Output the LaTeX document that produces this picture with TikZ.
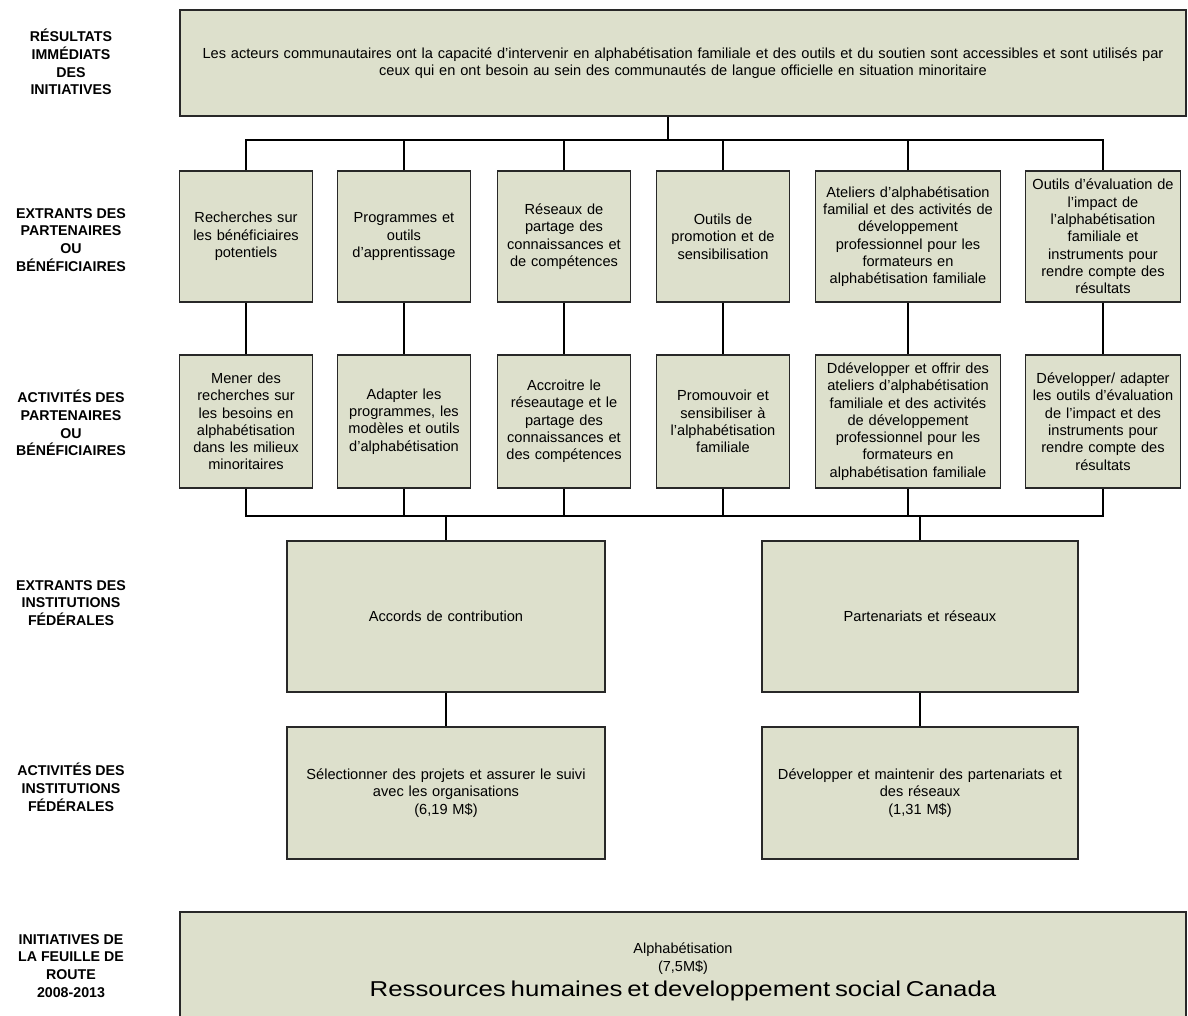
\documentclass[tikz,border=0pt]{standalone}
\usepackage{fontspec}
\setmainfont{Liberation Sans}
\definecolor{boxfill}{RGB}{221,224,204}
\definecolor{boxline}{RGB}{40,40,40}
\begin{document}
\begin{tikzpicture}[x=1pt,y=-1pt,
  box/.style={draw=boxline, line width=1.4pt, fill=boxfill, align=center, inner sep=1pt,
    font=\fontsize{14.6}{17.3}\selectfont},
  lab/.style={align=center, font=\bfseries\fontsize{14.2}{17.8}\selectfont},
  conn/.style={line width=1.3pt, draw=black}]
\useasboundingbox (0,0) rectangle (1188,1015);

% left labels
\node[lab] (l1) at (71,62) {RÉSULTATS\\IMMÉDIATS\\DES\\INITIATIVES};
\node[lab] (l2) at (71,240) {EXTRANTS DES\\PARTENAIRES\\OU\\BÉNÉFICIAIRES};
\node[lab] (l3) at (71,423) {ACTIVITÉS DES\\PARTENAIRES\\OU\\BÉNÉFICIAIRES};
\node[lab] (l4) at (71,603) {EXTRANTS DES\\INSTITUTIONS\\FÉDÉRALES};
\node[lab] (l5) at (71,787) {ACTIVITÉS DES\\INSTITUTIONS\\FÉDÉRALES};
\node[lab] (l6) at (71,966) {INITIATIVES DE\\LA FEUILLE DE\\ROUTE\\2008-2013};

% top box
\node[box, minimum width=1006pt, minimum height=106pt, text width=1002pt] (top) at (683,63)
 {Les acteurs communautaires ont la capacité d'intervenir en alphabétisation familiale et des outils et du soutien sont accessibles et sont utilisés par\\ceux qui en ont besoin au sein des communautés de langue officielle en situation minoritaire};

% row 1
\node[box, minimum width=133pt, minimum height=131pt, text width=130pt] (r1a) at (246,236.5)
 {Recherches sur\\les bénéficiaires\\potentiels};
\node[box, minimum width=133pt, minimum height=131pt, text width=130pt] (r1b) at (404,236.5)
 {Programmes et\\outils\\d'apprentissage};
\node[box, minimum width=133pt, minimum height=131pt, text width=130pt] (r1c) at (564,236.5)
 {Réseaux de\\partage des\\connaissances et\\de compétences};
\node[box, minimum width=133pt, minimum height=131pt, text width=130pt] (r1d) at (723,236.5)
 {Outils de\\promotion et de\\sensibilisation};
\node[box, minimum width=185pt, minimum height=131pt, text width=182pt] (r1e) at (908,236.5)
 {Ateliers d'alphabétisation\\familial et des activités de\\développement\\professionnel pour les\\formateurs en\\alphabétisation familiale};
\node[box, minimum width=155pt, minimum height=131pt, text width=152pt] (r1f) at (1103,236.5)
 {Outils d'évaluation de\\l'impact de\\l'alphabétisation\\familiale et\\instruments pour\\rendre compte des\\résultats};

% row 2
\node[box, minimum width=133pt, minimum height=133pt, text width=130pt] (r2a) at (246,421.5)
 {Mener des\\recherches sur\\les besoins en\\alphabétisation\\dans les milieux\\minoritaires};
\node[box, minimum width=133pt, minimum height=133pt, text width=130pt] (r2b) at (404,421.5)
 {Adapter les\\programmes, les\\modèles et outils\\d'alphabétisation};
\node[box, minimum width=133pt, minimum height=133pt, text width=130pt] (r2c) at (564,421.5)
 {Accroitre le\\réseautage et le\\partage des\\connaissances et\\des compétences};
\node[box, minimum width=133pt, minimum height=133pt, text width=130pt] (r2d) at (723,421.5)
 {Promouvoir et\\sensibiliser à\\l'alphabétisation\\familiale};
\node[box, minimum width=185pt, minimum height=133pt, text width=182pt] (r2e) at (908,421.5)
 {Ddévelopper et offrir des\\ateliers d'alphabétisation\\familiale et des activités\\de développement\\professionnel pour les\\formateurs en\\alphabétisation familiale};
\node[box, minimum width=155pt, minimum height=133pt, text width=152pt] (r2f) at (1103,421.5)
 {Développer/ adapter\\les outils d'évaluation\\de l'impact et des\\instruments pour\\rendre compte des\\résultats};

% row 3
\node[box, minimum width=318pt, minimum height=151pt, text width=310pt] (r3a) at (446,616.5)
 {Accords de contribution};
\node[box, minimum width=316pt, minimum height=151pt, text width=308pt] (r3b) at (920,616.5)
 {Partenariats et réseaux};

% row 4
\node[box, minimum width=318pt, minimum height=132pt, text width=310pt] (r4a) at (446,793)
 {Sélectionner des projets et assurer le suivi\\avec les organisations\\(6,19 M\$)};
\node[box, minimum width=316pt, minimum height=132pt, text width=308pt] (r4b) at (920,793)
 {Développer et maintenir des partenariats et\\des réseaux\\(1,31 M\$)};

% bottom box
\node[box, minimum width=1006pt, minimum height=120pt, text width=1000pt] (bot) at (683,972)
 {{\fontsize{14.5}{18}\selectfont Alphabétisation\\(7,5M\$)\par}
  {\fontsize{21.5}{25}\selectfont\addfontfeature{FakeStretch=1.2}Ressources humaines et developpement social Canada\par}};

% connectors
\coordinate (tb) at (668,140);
\coordinate (mb) at (0,516);
\draw[conn] (top.south -| tb) -- (tb);
\draw[conn] (r1a.north) -- (r1a.north |- tb) -- (r1f.north |- tb) -- (r1f.north);
\foreach \n in {r1b,r1c,r1d,r1e} \draw[conn] (\n.north) -- (\n.north |- tb);
\foreach \a/\b in {r1a/r2a,r1b/r2b,r1c/r2c,r1d/r2d,r1e/r2e,r1f/r2f} \draw[conn] (\a.south) -- (\b.north);
\draw[conn] (r2a.south) -- (r2a.south |- mb) -- (r2f.south |- mb) -- (r2f.south);
\foreach \n in {r2b,r2c,r2d,r2e} \draw[conn] (\n.south) -- (\n.south |- mb);
\draw[conn] (r3a.north |- mb) -- (r3a.north);
\draw[conn] (r3b.north |- mb) -- (r3b.north);
\draw[conn] (r3a.south) -- (r4a.north);
\draw[conn] (r3b.south) -- (r4b.north);
\end{tikzpicture}
\end{document}
